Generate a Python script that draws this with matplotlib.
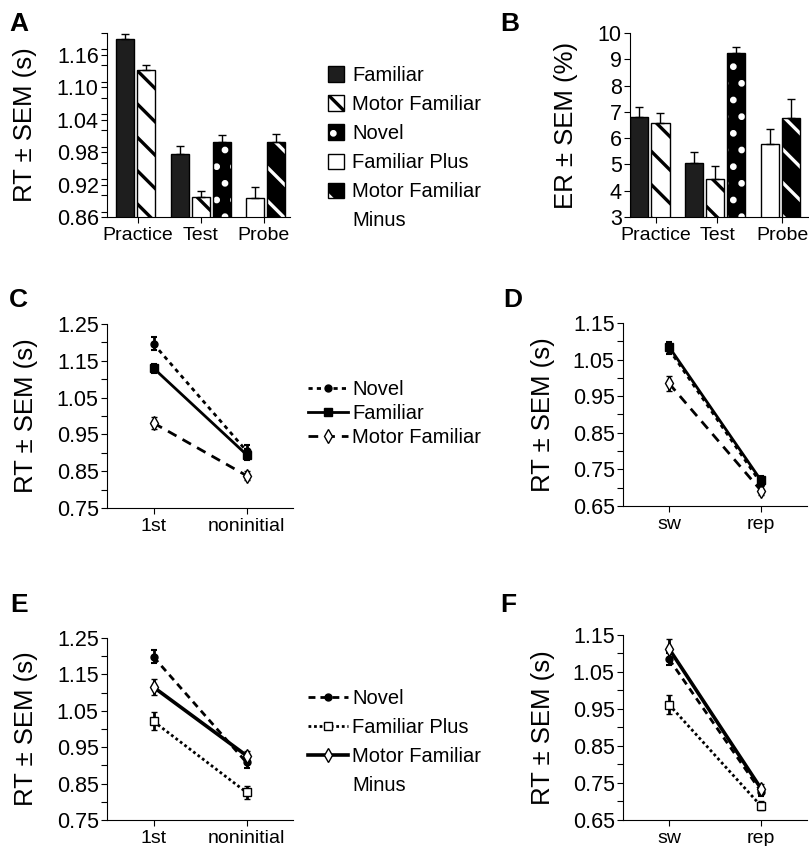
import numpy as np
import matplotlib.pyplot as plt
from matplotlib.ticker import MultipleLocator
from matplotlib.patches import Patch
from matplotlib.legend_handler import HandlerTuple

plt.rcParams['font.family'] = ['Liberation Sans', 'DejaVu Sans']
plt.rcParams['hatch.linewidth'] = 2.4
plt.rcParams['axes.linewidth'] = 0.8

W, H = 809, 846

# -- Bar data (A: reaction time, B: error rate) --
phases = ["Practice", "Test", "Probe"]
bar_cond = ["Familiar", "Motor Familiar", "Familiar", "Motor Familiar",
            "Novel", "Familiar Plus", "Motor Familiar Minus"]
rt_mean = [1.188, 1.132, 0.977, 0.897, 0.999, 0.895, 0.999]
rt_sem = [0.010, 0.009, 0.015, 0.011, 0.013, 0.020, 0.015]
er_mean = [6.82, 6.56, 5.04, 4.44, 9.23, 5.77, 6.78]
er_sem = [0.38, 0.38, 0.45, 0.50, 0.23, 0.56, 0.71]

# -- Line data (C/D: test phase, E/F: probe phase) --
pos_labels = ["1st", "noninitial"]
trans_labels = ["sw", "rep"]

c_novel, c_novel_sem = [1.196, 0.905], [0.018, 0.015]
c_fam, c_fam_sem = [1.130, 0.895], [0.012, 0.015]
c_mf, c_mf_sem = [0.981, 0.838], [0.017, 0.012]

d_novel, d_novel_sem = [1.078, 0.712], [0.012, 0.012]
d_fam, d_fam_sem = [1.085, 0.720], [0.012, 0.012]
d_mf, d_mf_sem = [0.985, 0.692], [0.020, 0.012]

e_novel, e_novel_sem = [1.198, 0.908], [0.018, 0.014]
e_fp, e_fp_sem = [1.021, 0.826], [0.025, 0.018]
e_mfm, e_mfm_sem = [1.115, 0.927], [0.022, 0.012]

f_novel, f_novel_sem = [1.085, 0.727], [0.015, 0.012]
f_fp, f_fp_sem = [0.962, 0.688], [0.025, 0.012]
f_mfm, f_mfm_sem = [1.113, 0.735], [0.025, 0.012]

# bar layout
bar_x = [0, 1, 2.6, 3.6, 4.6, 6.2, 7.2]
BAR_STYLE = {
    "Familiar": dict(face="#1e1e1e", hatch=None, hcol=None),
    "Motor Familiar": dict(face="white", hatch="\\", hcol="black"),
    "Novel": dict(face="black", hatch=".", hcol="white"),
    "Familiar Plus": dict(face="white", hatch=None, hcol=None),
    "Motor Familiar Minus": dict(face="black", hatch="\\", hcol="white"),
}

fig = plt.figure(figsize=(W / 100, H / 100), dpi=100)


def add_ax(x0, y0, x1, y1):
    ax = fig.add_axes([x0 / W, 1 - y1 / H, (x1 - x0) / W, (y1 - y0) / H])
    for s in ("top", "right"):
        ax.spines[s].set_visible(False)
    ax.tick_params(which="both", direction="out", length=4, width=0.8,
                   labelsize=15.5, pad=2)
    ax.tick_params(axis="x", labelsize=14, pad=3)
    return ax


def draw_bars(ax, means, sems):
    handles = {}
    for xi, c, m, s in zip(bar_x, bar_cond, means, sems):
        st = BAR_STYLE[c]
        if st["hatch"]:
            b = ax.bar(xi, m, width=0.86, color=st["face"], edgecolor=st["hcol"],
                       hatch=st["hatch"], linewidth=0)
            o = ax.bar(xi, m, width=0.86, fill=False, edgecolor="black", linewidth=1)
            handles[c] = (b[0], o[0])
        else:
            b = ax.bar(xi, m, width=0.86, color=st["face"], edgecolor="black", linewidth=1)
            handles[c] = b[0]
        ax.errorbar(xi, m, yerr=[[0], [s]], fmt="none", ecolor="black",
                    elinewidth=1, capsize=3, capthick=1)
    return handles


def ylabel(ax, text, xpos):
    ax.set_ylabel(text, fontsize=18.5)
    ax.yaxis.set_label_coords(xpos, 0.5)


def letter(x, y, s):
    fig.text(x / W, 1 - y / H, s, fontsize=19, fontweight="bold", va="top", ha="left")


# -- Panel A --
axA = add_ax(107, 33, 290, 217)
hA = draw_bars(axA, rt_mean, rt_sem)
axA.set_ylim(0.86, 1.20)
axA.set_xlim(-0.86, 7.86)
axA.yaxis.set_major_locator(MultipleLocator(0.06))
axA.yaxis.set_minor_locator(MultipleLocator(0.03))
axA.set_yticks(np.arange(0.86, 1.17, 0.06))
axA.set_yticklabels([f"{v:.2f}" for v in np.arange(0.86, 1.17, 0.06)])
axA.set_xticks([0.6, 3.6, 6.6], phases)
ylabel(axA, "RT ± SEM (s)", -0.38)

# -- Panel B --
axB = add_ax(630, 33, 808, 217)
draw_bars(axB, er_mean, er_sem)
axB.set_ylim(3, 10)
axB.set_xlim(-0.45, 8.02)
axB.yaxis.set_major_locator(MultipleLocator(1))
axB.set_xticks([0.78, 3.7, 6.8], phases)
ylabel(axB, "ER ± SEM (%)", -0.29)

# bar legend
leg_handles = [hA[c] for c in BAR_STYLE] + [Patch(visible=False)]
leg_labels = list(BAR_STYLE.keys())
leg_labels[-1] = "Motor Familiar"
leg_labels.append("Minus")
fig.legend(leg_handles, leg_labels, loc="upper left",
           bbox_to_anchor=(328 / W, 1 - 66 / H), frameon=False, fontsize=14.5,
           handlelength=0.8, handleheight=0.8, handletextpad=0.4,
           labelspacing=0.5, borderpad=0, borderaxespad=0,
           handler_map={tuple: HandlerTuple(ndivide=1, pad=0)})


def line_panel(ax, labels, series, ylo):
    hs = []
    for vals, sems, st in series:
        c = ax.errorbar([1, 2], vals, yerr=sems, color="black", ecolor="black",
                        elinewidth=2, capsize=2.5, capthick=1.5, **st)
        hs.append(c[0])
    ax.set_xlim(0.5, 2.5)
    ax.set_ylim(ylo, ylo + 0.5)
    ax.yaxis.set_major_locator(MultipleLocator(0.1))
    ax.yaxis.set_minor_locator(MultipleLocator(0.05))
    ax.set_yticks(np.arange(ylo, ylo + 0.51, 0.1))
    ax.set_yticklabels([f"{v:.2f}" for v in np.arange(ylo, ylo + 0.51, 0.1)])
    ax.set_xticks([1, 2], labels)
    ylabel(ax, "RT ± SEM (s)", -0.37)
    return hs


novel_c = dict(ls=(0, (1.5, 1.5)), lw=2, marker="o", ms=5, mfc="black", mec="black")
fam_s = dict(ls="-", lw=2, marker="s", ms=5.5, mfc="black", mec="black")
mf_d = dict(ls=(0, (3.5, 2.5)), lw=2, marker="d", ms=7, mfc="white", mec="black", mew=1)
novel_e = dict(ls=(0, (2.5, 1.8)), lw=2, marker="o", ms=5, mfc="black", mec="black")
fp_s = dict(ls=(0, (1, 1)), lw=2, marker="s", ms=6, mfc="white", mec="black", mew=1)
mfm_d = dict(ls="-", lw=2.6, marker="d", ms=7, mfc="white", mec="black", mew=1)

# -- Panel C / D --
axC = add_ax(107, 324, 293, 508)
hC = line_panel(axC, pos_labels, [(c_fam, c_fam_sem, fam_s), (c_mf, c_mf_sem, mf_d),
                                  (c_novel, c_novel_sem, novel_c)], 0.75)
axD = add_ax(623, 323, 807, 506)
line_panel(axD, trans_labels, [(d_fam, d_fam_sem, fam_s), (d_mf, d_mf_sem, mf_d),
                               (d_novel, d_novel_sem, novel_c)], 0.65)
axC.legend([hC[2], hC[0], hC[1]], ["Novel", "Familiar", "Motor Familiar"],
           loc="upper left", bbox_to_anchor=(308 / W, 1 - 380 / H),
           bbox_transform=fig.transFigure, frameon=False, fontsize=14.5,
           handlelength=2.0, handletextpad=0.2, labelspacing=0.25,
           borderpad=0, borderaxespad=0)

# -- Panel E / F --
axE = add_ax(107, 638, 293, 820)
hE = line_panel(axE, pos_labels, [(e_fp, e_fp_sem, fp_s), (e_novel, e_novel_sem, novel_e),
                                  (e_mfm, e_mfm_sem, mfm_d)], 0.75)
axF = add_ax(623, 635, 807, 820)
line_panel(axF, trans_labels, [(f_fp, f_fp_sem, fp_s), (f_novel, f_novel_sem, novel_e),
                               (f_mfm, f_mfm_sem, mfm_d)], 0.65)
axE.legend([hE[1], hE[0], hE[2], Patch(visible=False)],
           ["Novel", "Familiar Plus", "Motor Familiar", "Minus"],
           loc="upper left", bbox_to_anchor=(308 / W, 1 - 689 / H),
           bbox_transform=fig.transFigure, frameon=False, fontsize=14.5,
           handlelength=2.0, handletextpad=0.2, labelspacing=0.5,
           borderpad=0, borderaxespad=0)

letter(9, 12, "A")
letter(500, 12, "B")
letter(9, 288, "C")
letter(503, 288, "D")
letter(10, 593, "E")
letter(500, 593, "F")

fig.savefig("out.png", dpi=100)
